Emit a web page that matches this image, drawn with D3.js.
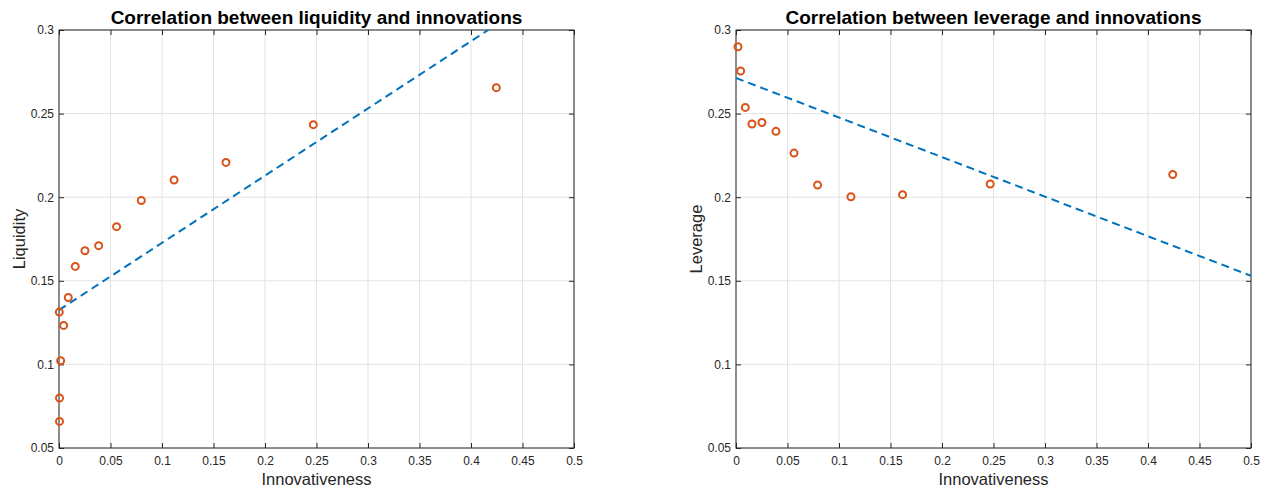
<!DOCTYPE html>
<html>
<head>
<meta charset="utf-8">
<script src="https://cdn.jsdelivr.net/npm/d3@7"></script>
<style>
  body { margin: 0; background: #fff; }
  svg { display: block; font-family: "Liberation Sans", Arial, Helvetica, sans-serif; }
  .axis text { fill: #262626; font-size: 12px; }
  .axis line { stroke: #262626; }
  .axis path { display: none; }
</style>
</head>
<body>
<svg id="chart"></svg>
<script>
// innovativeness (x) and firm measures (y)
const innovLiquidity = [0.0005, 0.0005, 0.0016, 0.0045, 0.0003, 0.009, 0.0158, 0.0252, 0.0385, 0.0559, 0.0799, 0.1117, 0.1621, 0.2469, 0.4246];
const liquidity      = [0.0659, 0.0799, 0.1022, 0.1233, 0.1313, 0.140, 0.1586, 0.168, 0.171, 0.1824, 0.198, 0.2103, 0.2208, 0.2434, 0.2655];

const innovLeverage = [0.0019, 0.0045, 0.009, 0.0155, 0.0252, 0.0388, 0.0563, 0.0792, 0.1116, 0.1617, 0.2468, 0.424];
const leverage      = [0.290, 0.2755, 0.2537, 0.2438, 0.2447, 0.2394, 0.2264, 0.2073, 0.2003, 0.2015, 0.2079, 0.2136];

// end points of the fitted lines
const fitLiquidityX = [0, 0.5];
const fitLiquidityY = [0.1325, 0.3335];
const fitLeverageX = [0, 0.5];
const fitLeverageY = [0.2713, 0.153];

const xTicks = [0, 0.05, 0.1, 0.15, 0.2, 0.25, 0.3, 0.35, 0.4, 0.45, 0.5];
const yTicks = [0.05, 0.1, 0.15, 0.2, 0.25, 0.3];

class ScatterFit {

  constructor(_config, _x, _y, _fitX, _fitY) {
    this.config = {
      svg: _config.svg,
      id: _config.id,
      title: _config.title,
      xLabel: _config.xLabel,
      yLabel: _config.yLabel,
      left: _config.left,
      top: _config.top || 30,
      width: _config.width || 515,
      height: _config.height || 418
    }
    this.x = _x;
    this.y = _y;
    this.fitX = _fitX;
    this.fitY = _fitY;
    this.initVis();
  }

  initVis() {
    let vis = this;
    let w = vis.config.width, h = vis.config.height;

    vis.xScale = d3.scaleLinear().domain([0, 0.5]).range([0, w]);
    vis.yScale = d3.scaleLinear().domain([0.05, 0.3]).range([h, 0]);

    vis.chart = vis.config.svg.append('g')
      .attr('transform', `translate(${vis.config.left},${vis.config.top})`);

    vis.chart.append('clipPath').attr('id', vis.config.id)
      .append('rect').attr('width', w).attr('height', h);

    // grid
    vis.chart.append('g').selectAll('line.gx').data(xTicks).join('line')
      .attr('x1', d => vis.xScale(d)).attr('x2', d => vis.xScale(d))
      .attr('y1', 0).attr('y2', h)
      .attr('stroke', '#e3e3e3');
    vis.chart.append('g').selectAll('line.gy').data(yTicks).join('line')
      .attr('y1', d => vis.yScale(d)).attr('y2', d => vis.yScale(d))
      .attr('x1', 0).attr('x2', w)
      .attr('stroke', '#e3e3e3');

    // axes, ticks pointing inside on all four sides
    vis.chart.append('g').attr('class', 'axis')
      .attr('transform', `translate(0,${h})`)
      .call(d3.axisBottom(vis.xScale).tickValues(xTicks).tickFormat(d3.format('~g'))
        .tickSizeInner(-5).tickSizeOuter(0).tickPadding(8));
    vis.chart.append('g').attr('class', 'axis')
      .call(d3.axisTop(vis.xScale).tickValues(xTicks).tickFormat('')
        .tickSizeInner(-5).tickSizeOuter(0));
    vis.chart.append('g').attr('class', 'axis')
      .call(d3.axisLeft(vis.yScale).tickValues(yTicks).tickFormat(d3.format('~g'))
        .tickSizeInner(-5).tickSizeOuter(0).tickPadding(5));
    vis.chart.append('g').attr('class', 'axis')
      .attr('transform', `translate(${w},0)`)
      .call(d3.axisRight(vis.yScale).tickValues(yTicks).tickFormat('')
        .tickSizeInner(-5).tickSizeOuter(0));

    vis.chart.append('rect')
      .attr('width', w).attr('height', h)
      .attr('fill', 'none').attr('stroke', '#262626').attr('stroke-width', 1);

    // fitted line
    vis.chart.append('path')
      .datum(d3.zip(vis.fitX, vis.fitY))
      .attr('clip-path', `url(#${vis.config.id})`)
      .attr('fill', 'none')
      .attr('stroke', '#0072BD')
      .attr('stroke-width', 2)
      .attr('stroke-dasharray', '8,5')
      .attr('d', d3.line().x(d => vis.xScale(d[0])).y(d => vis.yScale(d[1])));

    // observations
    vis.chart.append('g').selectAll('circle')
      .data(d3.zip(vis.x, vis.y)).join('circle')
      .attr('cx', d => vis.xScale(d[0]))
      .attr('cy', d => vis.yScale(d[1]))
      .attr('r', 3.5)
      .attr('fill', 'none')
      .attr('stroke', '#D95319')
      .attr('stroke-width', 2);

    vis.chart.append('text')
      .attr('x', w / 2).attr('y', -6)
      .attr('text-anchor', 'middle')
      .style('font-size', '19px').style('font-weight', 'bold')
      .attr('fill', '#000')
      .text(vis.config.title);

    vis.chart.append('text')
      .attr('x', w / 2).attr('y', h + 37)
      .attr('text-anchor', 'middle')
      .style('font-size', '16.5px')
      .attr('fill', '#262626')
      .text(vis.config.xLabel);

    vis.chart.append('text')
      .attr('transform', `translate(-34,${h / 2}) rotate(-90)`)
      .attr('text-anchor', 'middle')
      .style('font-size', '16.5px')
      .attr('fill', '#262626')
      .text(vis.config.yLabel);
  }
}

const svg = d3.select('#chart').attr('width', 1262).attr('height', 488);

new ScatterFit({ svg: svg, id: 'clipL', left: 59, title: 'Correlation between liquidity and innovations',
  xLabel: 'Innovativeness', yLabel: 'Liquidity' }, innovLiquidity, liquidity, fitLiquidityX, fitLiquidityY);

new ScatterFit({ svg: svg, id: 'clipR', left: 736, title: 'Correlation between leverage and innovations',
  xLabel: 'Innovativeness', yLabel: 'Leverage' }, innovLeverage, leverage, fitLeverageX, fitLeverageY);
</script>
</body>
</html>
